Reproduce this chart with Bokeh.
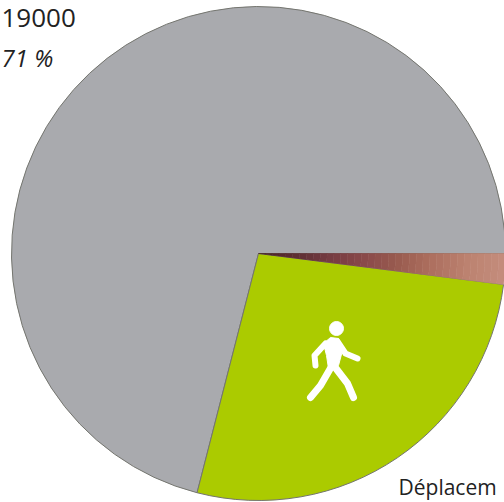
from math import tau
import numpy as np
from bokeh.plotting import figure
from bokeh.models import Range1d
from bokeh.core.properties import value
from bokeh.embed import file_html
from bokeh.resources import INLINE

categories = ["Autres", "Marche", "Vélo"]
shares = [71, 27, 2]
slice_colors = ["#a9aaae", "#abcb00", None]
labels = ["19000", "71 %", "Déplacem"]
brown_stops = ["#4a2428", "#5e2f33", "#763c42", "#8a4a4a", "#9a5c50", "#ae7060", "#bc8270", "#c48c7c"]

W, H = 504, 502
cx, cy, r = 258, 249, 247


def ramp(stops, per_stop=5):
    rgb = np.array([[int(s[i:i + 2], 16) for i in (1, 3, 5)] for s in stops], float)
    pos = np.linspace(0, len(stops) - 1, (len(stops) - 1) * per_stop + 1)
    out = [np.interp(pos, range(len(stops)), rgb[:, k]) for k in range(3)]
    return ["#%02x%02x%02x" % (int(a), int(b), int(c)) for a, b, c in zip(*out)]


p = figure(width=W, height=H, x_range=Range1d(0, W), y_range=Range1d(0, H),
           output_backend="svg", toolbar_location=None, min_border=0)
p.axis.visible = False
p.grid.visible = False
p.outline_line_color = None
p.background_fill_color = "white"

total = sum(shares)
start = 0.0
for name, share, color in zip(categories, shares, slice_colors):
    end = start + tau * share / total
    if color:
        p.wedge(cx, cy, radius=r, start_angle=start, end_angle=end,
                fill_color=color, line_color="#74756f", line_width=1)
    else:
        bands = ramp(brown_stops)
        n = len(bands)
        for i, c in enumerate(bands):
            p.annular_wedge(cx, cy, inner_radius=r * i / n, outer_radius=r * (i + 1) / n,
                            start_angle=start, end_angle=end,
                            fill_color=c, line_color=c, line_width=0.6)
    start = end

fy = lambda py: H - py
p.circle([336], [fy(328)], radius=7, fill_color="white", line_color="white")
p.patch([323, 330, 338, 342, 338, 328, 326],
        [fy(v) for v in [343, 337, 338, 350, 365, 368, 355]],
        fill_color="white", line_color="white", line_width=1)
limbs = [
    ([325, 314, 315], [343, 355, 365], 6),
    ([337, 345, 357], [341, 353, 358], 6),
    ([331, 320, 310], [366, 385, 397], 7),
    ([334, 347, 353], [366, 383, 397], 7),
]
for xs, ys, w in limbs:
    p.line(xs, [fy(v) for v in ys], line_color="white", line_width=w,
           line_cap="round", line_join="round")

font = value("Open Sans")
p.text([1], [fy(17)], text=[labels[0]], text_font=font, text_font_size="26px",
       text_color="#222222", text_align="left", text_baseline="middle")
p.text([1], [fy(57)], text=[labels[1]], text_font=font, text_font_size="24px",
       text_font_style="italic", text_color="#222222", text_align="left", text_baseline="middle")
p.text([398], [fy(486)], text=[labels[2]], text_font=font, text_font_size="21px",
       text_color="#222222", text_align="left", text_baseline="middle")

open("out.html", "w").write(file_html(p, INLINE))
